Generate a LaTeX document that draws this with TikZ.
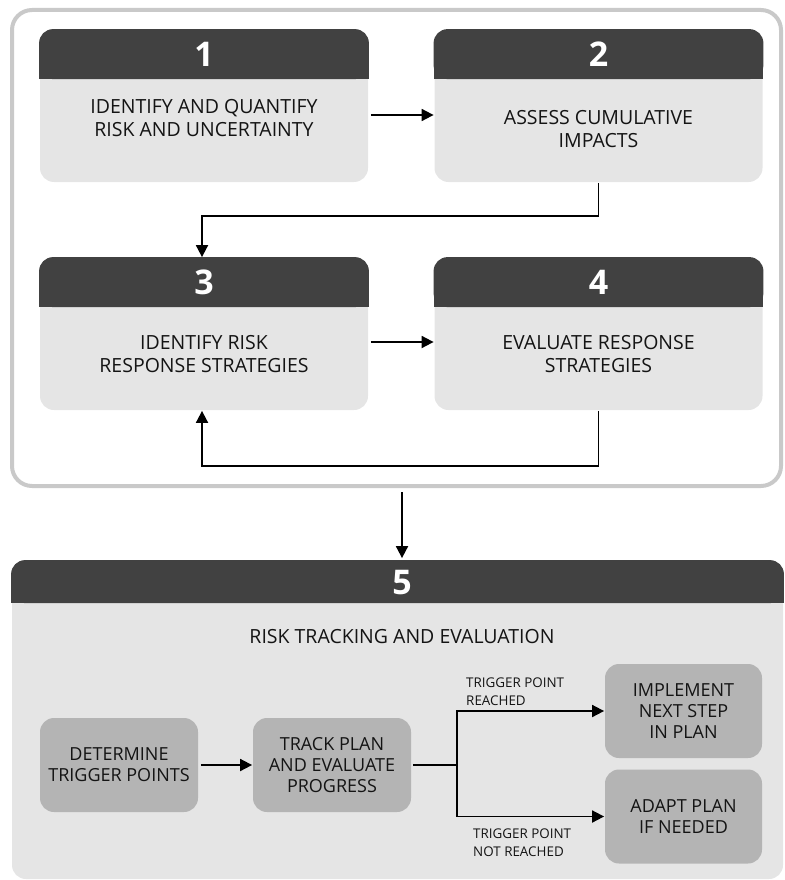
\documentclass[tikz,border=0pt]{standalone}
\usepackage{fontspec}
\setmainfont{Open Sans}
\usetikzlibrary{arrows.meta,positioning}
\definecolor{hdrgray}{HTML}{414141}
\definecolor{bodygray}{HTML}{E5E5E5}
\definecolor{subgray}{HTML}{B4B4B4}
\definecolor{framegray}{HTML}{C9C9C9}
\definecolor{inkgray}{HTML}{141414}

\begin{document}
\begin{tikzpicture}[x=1pt,y=-1pt,>={Triangle[length=12pt,width=12pt]},line width=1.8pt]
	\tikzset{
		stepbody/.style={fill=bodygray,rounded corners=14pt,minimum width=328pt,minimum height=152pt,inner sep=0pt},
		steptext/.style={text=inkgray,align=center,font=\fontsize{19.5}{23.5}\selectfont},
		stepnum/.style={text=white,font=\fontsize{34}{34}\selectfont\bfseries},
		substep/.style={fill=subgray,rounded corners=14pt,minimum width=158pt,minimum height=94pt,inner sep=0pt,
			text=inkgray,align=center,font=\fontsize{18}{21}\selectfont},
		branchlabel/.style={text=inkgray,align=left,anchor=west,font=\fontsize{13.4}{18}\selectfont},
		link/.style={draw=black,line width=1.8pt},
		arr/.style={link,->}
	}
	\useasboundingbox (0,0) rectangle (784,880);

	% outer frame round steps 1 to 4
	\draw[framegray,line width=4pt,rounded corners=20pt] (12,10) rectangle (781,486);

	\node[stepbody] (b1) at (204,106) {};
	\node[stepbody] (b2) at (598.5,106) {};
	\node[stepbody] (b3) at (204,334) {};
	\node[stepbody] (b4) at (598.5,334) {};

	\foreach \b in {b1,b2,b3,b4} {
		\fill[hdrgray,rounded corners=14pt] (\b.north west) rectangle ([yshift=-50pt]\b.north east);
		\fill[hdrgray] ([yshift=-25pt]\b.north west) rectangle ([yshift=-50pt]\b.north east);
	}
	\node[stepnum] (n1) at ([yshift=-25pt]b1.north) {1};
	\node[stepnum] (n2) at ([yshift=-25pt]b2.north) {2};
	\node[stepnum] (n3) at ([yshift=-25pt]b3.north) {3};
	\node[stepnum] (n4) at ([yshift=-25pt]b4.north) {4};

	\node[steptext] (t1) at (204,118) {IDENTIFY AND QUANTIFY\\RISK AND UNCERTAINTY};
	\node[steptext] (t2) at (598.5,129) {ASSESS CUMULATIVE\\IMPACTS};
	\node[steptext] (t3) at (204,354) {IDENTIFY RISK\\RESPONSE STRATEGIES};
	\node[steptext] (t4) at (598.5,354) {EVALUATE RESPONSE\\STRATEGIES};

	\draw[arr] ([xshift=2pt,yshift=-9pt]b1.east) -- ([yshift=-9pt]b2.west);
	\draw[arr] ([xshift=2pt,yshift=-8pt]b3.east) -- ([yshift=-8pt]b4.west);
	\draw[arr] (b2.south) -- ++(0,33) -| ([xshift=-2pt]b3.north);
	\draw[arr] (b4.south) -- ++(0,55) -| ([xshift=-2pt]b3.south);

	% step 5
	\node[fill=bodygray,rounded corners=14pt,minimum width=771pt,minimum height=318pt,inner sep=0pt] (b5) at (397.5,720) {};
	\fill[hdrgray,rounded corners=14pt] (b5.north west) rectangle ([yshift=-43pt]b5.north east);
	\fill[hdrgray] ([yshift=-22pt]b5.north west) rectangle ([yshift=-43pt]b5.north east);
	\node[stepnum] (n5) at (402,583) {5};
	\node[steptext] (t5) at (402,637) {RISK TRACKING AND EVALUATION};

	\coordinate (framebottom) at (402,492);
	\draw[arr] (framebottom) -- ([yshift=2pt]n5.north |- b5.north);

	\node[substep] (det) at (119,765) {DETERMINE\\TRIGGER POINTS};
	\node[substep] (trk) at (332,765) {TRACK PLAN\\AND EVALUATE\\PROGRESS};
	\node[substep,minimum width=157pt] (imp) at (683.5,711) {IMPLEMENT\\NEXT STEP\\IN PLAN};
	\node[substep,minimum width=157pt] (adp) at (683.5,816.5) {ADAPT PLAN\\IF NEEDED};

	\draw[arr] ([xshift=2pt]det.east) -- (trk.west);
	\coordinate (fork) at ([xshift=45pt]trk.east);
	\draw[link] ([xshift=1pt]trk.east) -- (fork);
	\draw[arr] (fork) |- (imp.west);
	\draw[arr] (fork) |- (adp.west);

	\node[branchlabel] (lreach) at (462,692) {TRIGGER POINT\\REACHED};
	\node[branchlabel] (lnot) at (469,843) {TRIGGER POINT\\NOT REACHED};
\end{tikzpicture}
\end{document}
